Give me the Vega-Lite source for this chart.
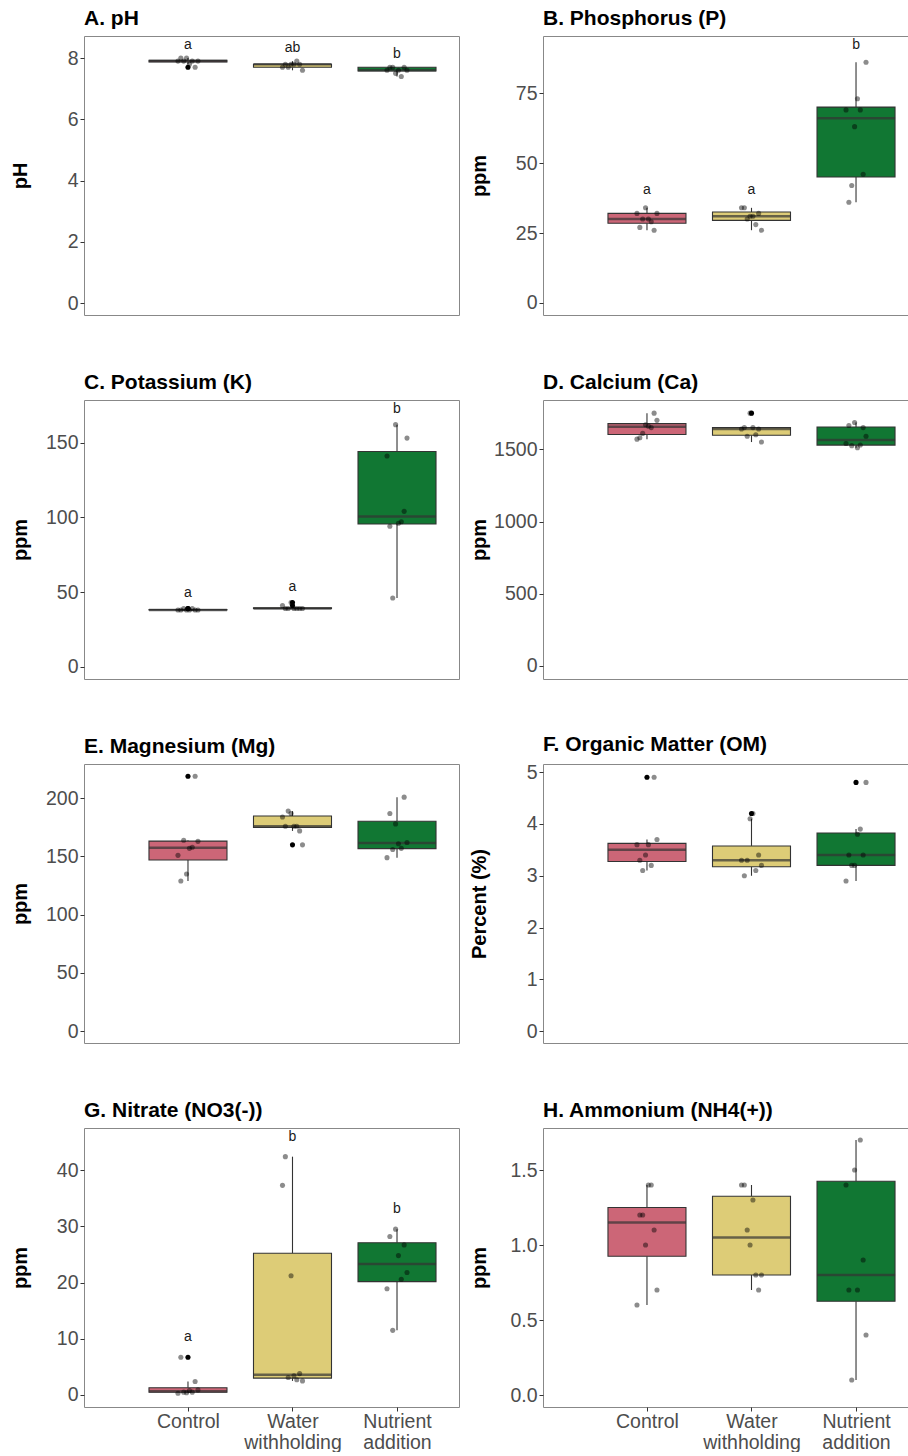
{
  "$schema": "https://vega.github.io/schema/vega-lite/v6.json",
  "background": "white",
  "padding": {"left": 9, "top": 7, "right": 0, "bottom": 0},
  "datasets": {
    "ph": [
      {"treatment":"Control","rep":1,"value":7.9,"letter":"a"},{"treatment":"Control","rep":2,"value":8.0,"letter":"a"},{"treatment":"Control","rep":3,"value":7.9,"letter":"a"},{"treatment":"Control","rep":4,"value":8.0,"letter":"a"},{"treatment":"Control","rep":5,"value":7.8,"letter":"a"},{"treatment":"Control","rep":6,"value":7.9,"letter":"a"},{"treatment":"Control","rep":7,"value":7.7,"letter":"a"},{"treatment":"Control","rep":8,"value":7.9,"letter":"a"},
      {"treatment":"Water withholding","rep":1,"value":7.7,"letter":"ab"},{"treatment":"Water withholding","rep":2,"value":7.8,"letter":"ab"},{"treatment":"Water withholding","rep":3,"value":7.7,"letter":"ab"},{"treatment":"Water withholding","rep":4,"value":7.8,"letter":"ab"},{"treatment":"Water withholding","rep":5,"value":7.8,"letter":"ab"},{"treatment":"Water withholding","rep":6,"value":7.9,"letter":"ab"},{"treatment":"Water withholding","rep":7,"value":7.8,"letter":"ab"},{"treatment":"Water withholding","rep":8,"value":7.6,"letter":"ab"},
      {"treatment":"Nutrient addition","rep":1,"value":7.6,"letter":"b"},{"treatment":"Nutrient addition","rep":2,"value":7.7,"letter":"b"},{"treatment":"Nutrient addition","rep":3,"value":7.7,"letter":"b"},{"treatment":"Nutrient addition","rep":4,"value":7.5,"letter":"b"},{"treatment":"Nutrient addition","rep":5,"value":7.6,"letter":"b"},{"treatment":"Nutrient addition","rep":6,"value":7.4,"letter":"b"},{"treatment":"Nutrient addition","rep":7,"value":7.7,"letter":"b"},{"treatment":"Nutrient addition","rep":8,"value":7.6,"letter":"b"}
    ],
    "p": [
      {"treatment":"Control","rep":1,"value":32,"letter":"a"},{"treatment":"Control","rep":2,"value":27,"letter":"a"},{"treatment":"Control","rep":3,"value":30,"letter":"a"},{"treatment":"Control","rep":4,"value":34,"letter":"a"},{"treatment":"Control","rep":5,"value":30,"letter":"a"},{"treatment":"Control","rep":6,"value":29,"letter":"a"},{"treatment":"Control","rep":7,"value":26,"letter":"a"},{"treatment":"Control","rep":8,"value":32,"letter":"a"},
      {"treatment":"Water withholding","rep":1,"value":34,"letter":"a"},{"treatment":"Water withholding","rep":2,"value":34,"letter":"a"},{"treatment":"Water withholding","rep":3,"value":30,"letter":"a"},{"treatment":"Water withholding","rep":4,"value":31,"letter":"a"},{"treatment":"Water withholding","rep":5,"value":31,"letter":"a"},{"treatment":"Water withholding","rep":6,"value":28,"letter":"a"},{"treatment":"Water withholding","rep":7,"value":32,"letter":"a"},{"treatment":"Water withholding","rep":8,"value":26,"letter":"a"},
      {"treatment":"Nutrient addition","rep":1,"value":69,"letter":"b"},{"treatment":"Nutrient addition","rep":2,"value":36,"letter":"b"},{"treatment":"Nutrient addition","rep":3,"value":42,"letter":"b"},{"treatment":"Nutrient addition","rep":4,"value":63,"letter":"b"},{"treatment":"Nutrient addition","rep":5,"value":73,"letter":"b"},{"treatment":"Nutrient addition","rep":6,"value":69,"letter":"b"},{"treatment":"Nutrient addition","rep":7,"value":46,"letter":"b"},{"treatment":"Nutrient addition","rep":8,"value":86,"letter":"b"}
    ],
    "k": [
      {"treatment":"Control","rep":1,"value":38,"letter":"a"},{"treatment":"Control","rep":2,"value":38,"letter":"a"},{"treatment":"Control","rep":3,"value":39,"letter":"a"},{"treatment":"Control","rep":4,"value":38,"letter":"a"},{"treatment":"Control","rep":5,"value":38,"letter":"a"},{"treatment":"Control","rep":6,"value":39,"letter":"a"},{"treatment":"Control","rep":7,"value":38,"letter":"a"},{"treatment":"Control","rep":8,"value":38,"letter":"a"},
      {"treatment":"Water withholding","rep":1,"value":41,"letter":"a"},{"treatment":"Water withholding","rep":2,"value":39,"letter":"a"},{"treatment":"Water withholding","rep":3,"value":39,"letter":"a"},{"treatment":"Water withholding","rep":4,"value":43,"letter":"a"},{"treatment":"Water withholding","rep":5,"value":39,"letter":"a"},{"treatment":"Water withholding","rep":6,"value":39,"letter":"a"},{"treatment":"Water withholding","rep":7,"value":39,"letter":"a"},{"treatment":"Water withholding","rep":8,"value":39,"letter":"a"},
      {"treatment":"Nutrient addition","rep":1,"value":141,"letter":"b"},{"treatment":"Nutrient addition","rep":2,"value":94,"letter":"b"},{"treatment":"Nutrient addition","rep":3,"value":46,"letter":"b"},{"treatment":"Nutrient addition","rep":4,"value":162,"letter":"b"},{"treatment":"Nutrient addition","rep":5,"value":96,"letter":"b"},{"treatment":"Nutrient addition","rep":6,"value":97,"letter":"b"},{"treatment":"Nutrient addition","rep":7,"value":104,"letter":"b"},{"treatment":"Nutrient addition","rep":8,"value":153,"letter":"b"}
    ],
    "ca": [
      {"treatment":"Control","rep":1,"value":1570},{"treatment":"Control","rep":2,"value":1580},{"treatment":"Control","rep":3,"value":1610},{"treatment":"Control","rep":4,"value":1670},{"treatment":"Control","rep":5,"value":1660},{"treatment":"Control","rep":6,"value":1650},{"treatment":"Control","rep":7,"value":1750},{"treatment":"Control","rep":8,"value":1700},
      {"treatment":"Water withholding","rep":1,"value":1640},{"treatment":"Water withholding","rep":2,"value":1650},{"treatment":"Water withholding","rep":3,"value":1590},{"treatment":"Water withholding","rep":4,"value":1750},{"treatment":"Water withholding","rep":5,"value":1650},{"treatment":"Water withholding","rep":6,"value":1600},{"treatment":"Water withholding","rep":7,"value":1640},{"treatment":"Water withholding","rep":8,"value":1550},
      {"treatment":"Nutrient addition","rep":1,"value":1540},{"treatment":"Nutrient addition","rep":2,"value":1665},{"treatment":"Nutrient addition","rep":3,"value":1525},{"treatment":"Nutrient addition","rep":4,"value":1685},{"treatment":"Nutrient addition","rep":5,"value":1510},{"treatment":"Nutrient addition","rep":6,"value":1530},{"treatment":"Nutrient addition","rep":7,"value":1650},{"treatment":"Nutrient addition","rep":8,"value":1590}
    ],
    "mg": [
      {"treatment":"Control","rep":1,"value":151},{"treatment":"Control","rep":2,"value":129},{"treatment":"Control","rep":3,"value":164},{"treatment":"Control","rep":4,"value":135},{"treatment":"Control","rep":5,"value":157},{"treatment":"Control","rep":6,"value":158},{"treatment":"Control","rep":7,"value":219},{"treatment":"Control","rep":8,"value":163},
      {"treatment":"Water withholding","rep":1,"value":184},{"treatment":"Water withholding","rep":2,"value":176},{"treatment":"Water withholding","rep":3,"value":189},{"treatment":"Water withholding","rep":4,"value":187},{"treatment":"Water withholding","rep":5,"value":176},{"treatment":"Water withholding","rep":6,"value":176},{"treatment":"Water withholding","rep":7,"value":172},{"treatment":"Water withholding","rep":8,"value":160},
      {"treatment":"Nutrient addition","rep":1,"value":149},{"treatment":"Nutrient addition","rep":2,"value":187},{"treatment":"Nutrient addition","rep":3,"value":156},{"treatment":"Nutrient addition","rep":4,"value":178},{"treatment":"Nutrient addition","rep":5,"value":161},{"treatment":"Nutrient addition","rep":6,"value":157},{"treatment":"Nutrient addition","rep":7,"value":201},{"treatment":"Nutrient addition","rep":8,"value":162}
    ],
    "om": [
      {"treatment":"Control","rep":1,"value":3.6},{"treatment":"Control","rep":2,"value":3.3},{"treatment":"Control","rep":3,"value":3.1},{"treatment":"Control","rep":4,"value":3.4},{"treatment":"Control","rep":5,"value":3.6},{"treatment":"Control","rep":6,"value":3.2},{"treatment":"Control","rep":7,"value":4.9},{"treatment":"Control","rep":8,"value":3.7},
      {"treatment":"Water withholding","rep":1,"value":3.3},{"treatment":"Water withholding","rep":2,"value":3.0},{"treatment":"Water withholding","rep":3,"value":3.3},{"treatment":"Water withholding","rep":4,"value":4.1},{"treatment":"Water withholding","rep":5,"value":4.2},{"treatment":"Water withholding","rep":6,"value":3.1},{"treatment":"Water withholding","rep":7,"value":3.4},{"treatment":"Water withholding","rep":8,"value":3.2},
      {"treatment":"Nutrient addition","rep":1,"value":2.9},{"treatment":"Nutrient addition","rep":2,"value":3.4},{"treatment":"Nutrient addition","rep":3,"value":3.2},{"treatment":"Nutrient addition","rep":4,"value":3.2},{"treatment":"Nutrient addition","rep":5,"value":3.8},{"treatment":"Nutrient addition","rep":6,"value":3.9},{"treatment":"Nutrient addition","rep":7,"value":3.4},{"treatment":"Nutrient addition","rep":8,"value":4.8}
    ],
    "no3": [
      {"treatment":"Control","rep":1,"value":0.3,"letter":"a"},{"treatment":"Control","rep":2,"value":6.7,"letter":"a"},{"treatment":"Control","rep":3,"value":0.5,"letter":"a"},{"treatment":"Control","rep":4,"value":0.4,"letter":"a"},{"treatment":"Control","rep":5,"value":0.8,"letter":"a"},{"treatment":"Control","rep":6,"value":0.5,"letter":"a"},{"treatment":"Control","rep":7,"value":2.4,"letter":"a"},{"treatment":"Control","rep":8,"value":0.9,"letter":"a"},
      {"treatment":"Water withholding","rep":1,"value":37.3,"letter":"b"},{"treatment":"Water withholding","rep":2,"value":42.4,"letter":"b"},{"treatment":"Water withholding","rep":3,"value":3.1,"letter":"b"},{"treatment":"Water withholding","rep":4,"value":21.2,"letter":"b"},{"treatment":"Water withholding","rep":5,"value":3.4,"letter":"b"},{"treatment":"Water withholding","rep":6,"value":2.7,"letter":"b"},{"treatment":"Water withholding","rep":7,"value":3.8,"letter":"b"},{"treatment":"Water withholding","rep":8,"value":2.5,"letter":"b"},
      {"treatment":"Nutrient addition","rep":1,"value":18.9,"letter":"b"},{"treatment":"Nutrient addition","rep":2,"value":28.2,"letter":"b"},{"treatment":"Nutrient addition","rep":3,"value":11.5,"letter":"b"},{"treatment":"Nutrient addition","rep":4,"value":29.5,"letter":"b"},{"treatment":"Nutrient addition","rep":5,"value":24.8,"letter":"b"},{"treatment":"Nutrient addition","rep":6,"value":20.6,"letter":"b"},{"treatment":"Nutrient addition","rep":7,"value":26.7,"letter":"b"},{"treatment":"Nutrient addition","rep":8,"value":21.8,"letter":"b"}
    ],
    "nh4": [
      {"treatment":"Control","rep":1,"value":0.6},{"treatment":"Control","rep":2,"value":1.2},{"treatment":"Control","rep":3,"value":1.2},{"treatment":"Control","rep":4,"value":1.0},{"treatment":"Control","rep":5,"value":1.4},{"treatment":"Control","rep":6,"value":1.4},{"treatment":"Control","rep":7,"value":1.1},{"treatment":"Control","rep":8,"value":0.7},
      {"treatment":"Water withholding","rep":1,"value":1.4},{"treatment":"Water withholding","rep":2,"value":1.4},{"treatment":"Water withholding","rep":3,"value":1.1},{"treatment":"Water withholding","rep":4,"value":1.0},{"treatment":"Water withholding","rep":5,"value":1.3},{"treatment":"Water withholding","rep":6,"value":0.8},{"treatment":"Water withholding","rep":7,"value":0.7},{"treatment":"Water withholding","rep":8,"value":0.8},
      {"treatment":"Nutrient addition","rep":1,"value":1.4},{"treatment":"Nutrient addition","rep":2,"value":0.7},{"treatment":"Nutrient addition","rep":3,"value":0.1},{"treatment":"Nutrient addition","rep":4,"value":1.5},{"treatment":"Nutrient addition","rep":5,"value":0.7},{"treatment":"Nutrient addition","rep":6,"value":1.7},{"treatment":"Nutrient addition","rep":7,"value":0.9},{"treatment":"Nutrient addition","rep":8,"value":0.4}
    ]
  },
  "columns": 2,
  "bounds": "flush",
  "spacing": {"row": 85, "column": 84},
  "concat": [
    {
      "width": 375, "height": 279,
      "title": {"text": "A. pH"},
      "data": {"name": "ph"},
      "encoding": {"x": {"field": "treatment", "type": "nominal", "scale": {"type": "point", "domain": ["Control", "Water withholding", "Nutrient addition"], "padding": 0.794, "align": 0.6265}, "axis": null}},
      "layer": [
        {"mark": {"type": "boxplot", "extent": 1.5, "size": 78, "box": {"stroke": "#333333", "strokeWidth": 1.1}, "median": {"color": "#333333", "thickness": 2.5}, "rule": {"color": "#333333", "strokeWidth": 1.1}, "outliers": false},
         "encoding": {"y": {"field": "value", "type": "quantitative", "title": "pH", "scale": {"domain": [-0.39, 8.72], "nice": false, "zero": false}, "axis": {"values": [0, 2, 4, 6, 8], "format": "d"}},
                      "color": {"field": "treatment", "type": "nominal", "scale": {"domain": ["Control", "Water withholding", "Nutrient addition"], "range": ["#CC6677", "#DDCC77", "#117733"]}, "legend": null}}},
        {"mark": {"type": "boxplot", "extent": 1.5, "box": false, "median": false, "rule": false, "ticks": false, "outliers": {"color": "#000000", "filled": true, "size": 26, "opacity": 1}},
         "encoding": {"y": {"field": "value", "type": "quantitative", "title": "pH"}}},
        {"mark": {"type": "circle", "size": 26, "color": "#000000", "opacity": 0.45},
         "encoding": {"y": {"field": "value", "type": "quantitative", "title": "pH"}, "xOffset": {"field": "rep", "type": "ordinal", "scale": {"type": "point", "range": [-10, 10], "padding": 0}}}},
        {"mark": {"type": "text", "dy": -13, "fontSize": 14, "baseline": "middle", "color": "#1A1A1A"},
         "encoding": {"y": {"aggregate": "max", "field": "value", "type": "quantitative", "title": "pH"}, "text": {"field": "letter", "type": "nominal"}}}
      ]
    },
    {
      "width": 365, "height": 279,
      "title": {"text": "B. Phosphorus (P)"},
      "data": {"name": "p"},
      "encoding": {"x": {"field": "treatment", "type": "nominal", "scale": {"type": "point", "domain": ["Control", "Water withholding", "Nutrient addition"], "padding": 0.746, "align": 0.6667}, "axis": null}},
      "layer": [
        {"mark": {"type": "boxplot", "extent": 1.5, "size": 78, "box": {"stroke": "#333333", "strokeWidth": 1.1}, "median": {"color": "#333333", "thickness": 2.5}, "rule": {"color": "#333333", "strokeWidth": 1.1}, "outliers": false},
         "encoding": {"y": {"field": "value", "type": "quantitative", "title": "ppm", "scale": {"domain": [-4.3, 95.4], "nice": false, "zero": false}, "axis": {"values": [0, 25, 50, 75], "format": "d"}},
                      "color": {"field": "treatment", "type": "nominal", "scale": {"domain": ["Control", "Water withholding", "Nutrient addition"], "range": ["#CC6677", "#DDCC77", "#117733"]}, "legend": null}}},
        {"mark": {"type": "boxplot", "extent": 1.5, "box": false, "median": false, "rule": false, "ticks": false, "outliers": {"color": "#000000", "filled": true, "size": 26, "opacity": 1}},
         "encoding": {"y": {"field": "value", "type": "quantitative", "title": "ppm"}}},
        {"mark": {"type": "circle", "size": 26, "color": "#000000", "opacity": 0.45},
         "encoding": {"y": {"field": "value", "type": "quantitative", "title": "ppm"}, "xOffset": {"field": "rep", "type": "ordinal", "scale": {"type": "point", "range": [-10, 10], "padding": 0}}}},
        {"mark": {"type": "text", "dy": -17.5, "fontSize": 14, "baseline": "middle", "color": "#1A1A1A"},
         "encoding": {"y": {"aggregate": "max", "field": "value", "type": "quantitative", "title": "ppm"}, "text": {"field": "letter", "type": "nominal"}}}
      ]
    },
    {
      "width": 375, "height": 279,
      "title": {"text": "C. Potassium (K)"},
      "data": {"name": "k"},
      "encoding": {"x": {"field": "treatment", "type": "nominal", "scale": {"type": "point", "domain": ["Control", "Water withholding", "Nutrient addition"], "padding": 0.794, "align": 0.6265}, "axis": null}},
      "layer": [
        {"mark": {"type": "boxplot", "extent": 1.5, "size": 78, "box": {"stroke": "#333333", "strokeWidth": 1.1}, "median": {"color": "#333333", "thickness": 2.5}, "rule": {"color": "#333333", "strokeWidth": 1.1}, "outliers": false},
         "encoding": {"y": {"field": "value", "type": "quantitative", "title": "ppm", "scale": {"domain": [-8.2, 178.5], "nice": false, "zero": false}, "axis": {"values": [0, 50, 100, 150], "format": "d"}},
                      "color": {"field": "treatment", "type": "nominal", "scale": {"domain": ["Control", "Water withholding", "Nutrient addition"], "range": ["#CC6677", "#DDCC77", "#117733"]}, "legend": null}}},
        {"mark": {"type": "boxplot", "extent": 1.5, "box": false, "median": false, "rule": false, "ticks": false, "outliers": {"color": "#000000", "filled": true, "size": 26, "opacity": 1}},
         "encoding": {"y": {"field": "value", "type": "quantitative", "title": "ppm"}}},
        {"mark": {"type": "circle", "size": 26, "color": "#000000", "opacity": 0.45},
         "encoding": {"y": {"field": "value", "type": "quantitative", "title": "ppm"}, "xOffset": {"field": "rep", "type": "ordinal", "scale": {"type": "point", "range": [-10, 10], "padding": 0}}}},
        {"mark": {"type": "text", "dy": -15.5, "fontSize": 14, "baseline": "middle", "color": "#1A1A1A"},
         "encoding": {"y": {"aggregate": "max", "field": "value", "type": "quantitative", "title": "ppm"}, "text": {"field": "letter", "type": "nominal"}}}
      ]
    },
    {
      "width": 365, "height": 279,
      "title": {"text": "D. Calcium (Ca)"},
      "data": {"name": "ca"},
      "encoding": {"x": {"field": "treatment", "type": "nominal", "scale": {"type": "point", "domain": ["Control", "Water withholding", "Nutrient addition"], "padding": 0.746, "align": 0.6667}, "axis": null}},
      "layer": [
        {"mark": {"type": "boxplot", "extent": 1.5, "size": 78, "box": {"stroke": "#333333", "strokeWidth": 1.1}, "median": {"color": "#333333", "thickness": 2.5}, "rule": {"color": "#333333", "strokeWidth": 1.1}, "outliers": false},
         "encoding": {"y": {"field": "value", "type": "quantitative", "title": "ppm", "scale": {"domain": [-90, 1841], "nice": false, "zero": false}, "axis": {"values": [0, 500, 1000, 1500], "format": "d"}},
                      "color": {"field": "treatment", "type": "nominal", "scale": {"domain": ["Control", "Water withholding", "Nutrient addition"], "range": ["#CC6677", "#DDCC77", "#117733"]}, "legend": null}}},
        {"mark": {"type": "boxplot", "extent": 1.5, "box": false, "median": false, "rule": false, "ticks": false, "outliers": {"color": "#000000", "filled": true, "size": 26, "opacity": 1}},
         "encoding": {"y": {"field": "value", "type": "quantitative", "title": "ppm"}}},
        {"mark": {"type": "circle", "size": 26, "color": "#000000", "opacity": 0.45},
         "encoding": {"y": {"field": "value", "type": "quantitative", "title": "ppm"}, "xOffset": {"field": "rep", "type": "ordinal", "scale": {"type": "point", "range": [-10, 10], "padding": 0}}}}
      ]
    },
    {
      "width": 375, "height": 279,
      "title": {"text": "E. Magnesium (Mg)"},
      "data": {"name": "mg"},
      "encoding": {"x": {"field": "treatment", "type": "nominal", "scale": {"type": "point", "domain": ["Control", "Water withholding", "Nutrient addition"], "padding": 0.794, "align": 0.6265}, "axis": null}},
      "layer": [
        {"mark": {"type": "boxplot", "extent": 1.5, "size": 78, "box": {"stroke": "#333333", "strokeWidth": 1.1}, "median": {"color": "#333333", "thickness": 2.5}, "rule": {"color": "#333333", "strokeWidth": 1.1}, "outliers": false},
         "encoding": {"y": {"field": "value", "type": "quantitative", "title": "ppm", "scale": {"domain": [-10.3, 229.5], "nice": false, "zero": false}, "axis": {"values": [0, 50, 100, 150, 200], "format": "d"}},
                      "color": {"field": "treatment", "type": "nominal", "scale": {"domain": ["Control", "Water withholding", "Nutrient addition"], "range": ["#CC6677", "#DDCC77", "#117733"]}, "legend": null}}},
        {"mark": {"type": "boxplot", "extent": 1.5, "box": false, "median": false, "rule": false, "ticks": false, "outliers": {"color": "#000000", "filled": true, "size": 26, "opacity": 1}},
         "encoding": {"y": {"field": "value", "type": "quantitative", "title": "ppm"}}},
        {"mark": {"type": "circle", "size": 26, "color": "#000000", "opacity": 0.45},
         "encoding": {"y": {"field": "value", "type": "quantitative", "title": "ppm"}, "xOffset": {"field": "rep", "type": "ordinal", "scale": {"type": "point", "range": [-10, 10], "padding": 0}}}}
      ]
    },
    {
      "width": 365, "height": 279,
      "title": {"text": "F. Organic Matter (OM)"},
      "data": {"name": "om"},
      "encoding": {"x": {"field": "treatment", "type": "nominal", "scale": {"type": "point", "domain": ["Control", "Water withholding", "Nutrient addition"], "padding": 0.746, "align": 0.6667}, "axis": null}},
      "layer": [
        {"mark": {"type": "boxplot", "extent": 1.5, "size": 78, "box": {"stroke": "#333333", "strokeWidth": 1.1}, "median": {"color": "#333333", "thickness": 2.5}, "rule": {"color": "#333333", "strokeWidth": 1.1}, "outliers": false},
         "encoding": {"y": {"field": "value", "type": "quantitative", "title": "Percent (%)", "scale": {"domain": [-0.225, 5.155], "nice": false, "zero": false}, "axis": {"values": [0, 1, 2, 3, 4, 5], "format": "d"}},
                      "color": {"field": "treatment", "type": "nominal", "scale": {"domain": ["Control", "Water withholding", "Nutrient addition"], "range": ["#CC6677", "#DDCC77", "#117733"]}, "legend": null}}},
        {"mark": {"type": "boxplot", "extent": 1.5, "box": false, "median": false, "rule": false, "ticks": false, "outliers": {"color": "#000000", "filled": true, "size": 26, "opacity": 1}},
         "encoding": {"y": {"field": "value", "type": "quantitative", "title": "Percent (%)"}}},
        {"mark": {"type": "circle", "size": 26, "color": "#000000", "opacity": 0.45},
         "encoding": {"y": {"field": "value", "type": "quantitative", "title": "Percent (%)"}, "xOffset": {"field": "rep", "type": "ordinal", "scale": {"type": "point", "range": [-10, 10], "padding": 0}}}}
      ]
    },
    {
      "width": 375, "height": 279,
      "title": {"text": "G. Nitrate (NO3(-))"},
      "data": {"name": "no3"},
      "encoding": {"x": {"field": "treatment", "type": "nominal", "scale": {"type": "point", "domain": ["Control", "Water withholding", "Nutrient addition"], "padding": 0.794, "align": 0.6265}, "axis": {"title": null, "labelExpr": "split(datum.label, ' ')"}}},
      "layer": [
        {"mark": {"type": "boxplot", "extent": 1.5, "size": 78, "box": {"stroke": "#333333", "strokeWidth": 1.1}, "median": {"color": "#333333", "thickness": 2.5}, "rule": {"color": "#333333", "strokeWidth": 1.1}, "outliers": false},
         "encoding": {"y": {"field": "value", "type": "quantitative", "title": "ppm", "scale": {"domain": [-2.14, 47.5], "nice": false, "zero": false}, "axis": {"values": [0, 10, 20, 30, 40], "format": "d"}},
                      "color": {"field": "treatment", "type": "nominal", "scale": {"domain": ["Control", "Water withholding", "Nutrient addition"], "range": ["#CC6677", "#DDCC77", "#117733"]}, "legend": null}}},
        {"mark": {"type": "boxplot", "extent": 1.5, "box": false, "median": false, "rule": false, "ticks": false, "outliers": {"color": "#000000", "filled": true, "size": 26, "opacity": 1}},
         "encoding": {"y": {"field": "value", "type": "quantitative", "title": "ppm"}}},
        {"mark": {"type": "circle", "size": 26, "color": "#000000", "opacity": 0.45},
         "encoding": {"y": {"field": "value", "type": "quantitative", "title": "ppm"}, "xOffset": {"field": "rep", "type": "ordinal", "scale": {"type": "point", "range": [-10, 10], "padding": 0}}}},
        {"mark": {"type": "text", "dy": -20, "fontSize": 14, "baseline": "middle", "color": "#1A1A1A"},
         "encoding": {"y": {"aggregate": "max", "field": "value", "type": "quantitative", "title": "ppm"}, "text": {"field": "letter", "type": "nominal"}}}
      ]
    },
    {
      "width": 365, "height": 279,
      "title": {"text": "H. Ammonium (NH4(+))"},
      "data": {"name": "nh4"},
      "encoding": {"x": {"field": "treatment", "type": "nominal", "scale": {"type": "point", "domain": ["Control", "Water withholding", "Nutrient addition"], "padding": 0.746, "align": 0.6667}, "axis": {"title": null, "labelExpr": "split(datum.label, ' ')"}}},
      "layer": [
        {"mark": {"type": "boxplot", "extent": 1.5, "size": 78, "box": {"stroke": "#333333", "strokeWidth": 1.1}, "median": {"color": "#333333", "thickness": 2.5}, "rule": {"color": "#333333", "strokeWidth": 1.1}, "outliers": false},
         "encoding": {"y": {"field": "value", "type": "quantitative", "title": "ppm", "scale": {"domain": [-0.08, 1.78], "nice": false, "zero": false}, "axis": {"values": [0, 0.5, 1, 1.5], "format": ".1f"}},
                      "color": {"field": "treatment", "type": "nominal", "scale": {"domain": ["Control", "Water withholding", "Nutrient addition"], "range": ["#CC6677", "#DDCC77", "#117733"]}, "legend": null}}},
        {"mark": {"type": "boxplot", "extent": 1.5, "box": false, "median": false, "rule": false, "ticks": false, "outliers": {"color": "#000000", "filled": true, "size": 26, "opacity": 1}},
         "encoding": {"y": {"field": "value", "type": "quantitative", "title": "ppm"}}},
        {"mark": {"type": "circle", "size": 26, "color": "#000000", "opacity": 0.45},
         "encoding": {"y": {"field": "value", "type": "quantitative", "title": "ppm"}, "xOffset": {"field": "rep", "type": "ordinal", "scale": {"type": "point", "range": [-10, 10], "padding": 0}}}}
      ]
    }
  ],
  "config": {
    "font": "Liberation Sans",
    "view": {"stroke": "#888888", "strokeWidth": 1},
    "axis": {"grid": false, "domain": false, "tickColor": "#333333", "tickSize": 4, "labelColor": "#4D4D4D", "labelFontSize": 19.5, "labelFont": "Liberation Sans", "titleFont": "Liberation Sans", "titleFontSize": 20, "titleFontWeight": "bold", "titleColor": "#000000"},
    "axisY": {"minExtent": 50, "maxExtent": 50, "labelPadding": 2, "titlePadding": 4},
    "axisX": {"labelPadding": 1, "labelLineHeight": 21, "labelAngle": 0},
    "title": {"anchor": "start", "frame": "group", "fontSize": 21, "fontWeight": "bold", "font": "Liberation Sans", "color": "#000000", "baseline": "alphabetic", "offset": 7}
  }
}
